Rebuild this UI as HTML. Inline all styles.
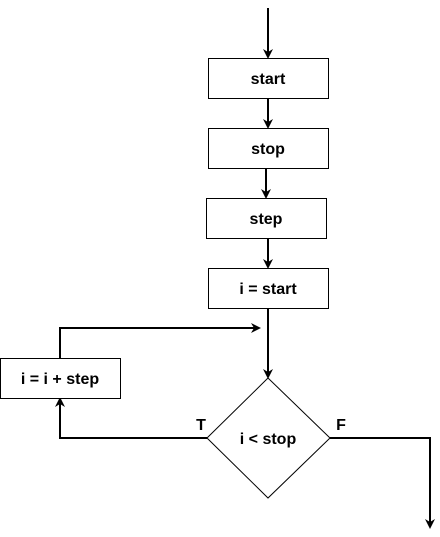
<!DOCTYPE html>
<html><head><meta charset="utf-8"><style>
html,body{margin:0;padding:0;background:#fff;}
svg{display:block;}
text{font-family:"Liberation Sans",Arial,sans-serif;font-weight:bold;font-size:16px;fill:#000;}
</style></head><body>
<svg width="440" height="537" viewBox="0 0 440 537" xmlns="http://www.w3.org/2000/svg">
<defs>
<marker id="a" markerWidth="10" markerHeight="10" refX="8" refY="5" orient="auto" markerUnits="userSpaceOnUse">
<path d="M0,0 L10,5 L0,10 L3,5 Z" fill="#000"/>
</marker>
</defs>
<g stroke="#000" stroke-width="2" fill="none">
<line x1="268" y1="8" x2="268" y2="57" marker-end="url(#a)"/>
<line x1="268" y1="98" x2="268" y2="127" marker-end="url(#a)"/>
<line x1="266" y1="168" x2="266" y2="197" marker-end="url(#a)"/>
<line x1="268" y1="238" x2="268" y2="267" marker-end="url(#a)"/>
<line x1="268" y1="308" x2="268" y2="377" marker-end="url(#a)"/>
<polyline points="207,438 60,438 60,399" marker-end="url(#a)"/>
<polyline points="60,358 60,328 259,328" marker-end="url(#a)"/>
<polyline points="330,438 430,438 430,527" marker-end="url(#a)"/>
</g>
<g stroke="#000" stroke-width="1" fill="#fff">
<rect x="208.5" y="58.5" width="120" height="40"/>
<rect x="208.5" y="128.5" width="120" height="40"/>
<rect x="206.5" y="198.5" width="120" height="40"/>
<rect x="208.5" y="268.5" width="120" height="40"/>
<rect x="0.5" y="358.5" width="120" height="40"/>
<polygon points="268,378 330,438 268,498 207,438"/>
</g>
<g text-anchor="middle">
<text x="268" y="84">start</text>
<text x="268" y="154">stop</text>
<text x="266" y="224">step</text>
<text x="268" y="294">i = start</text>
<text x="60" y="384">i = i + step</text>
<text x="268" y="444">i &lt; stop</text>
<text x="201" y="430">T</text>
<text x="341" y="430">F</text>
</g>
</svg>
</body></html>
